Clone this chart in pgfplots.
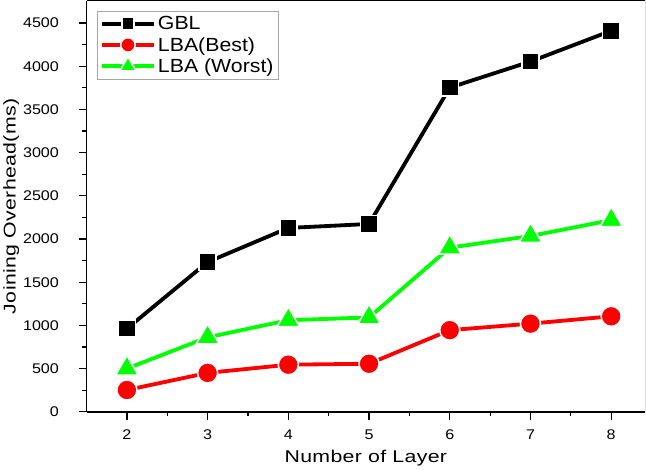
\documentclass[border=0pt]{standalone}
\usepackage{fontspec}
\setmainfont{Liberation Sans}[FakeStretch=1.12]
\newfontfamily\tickfont{Liberation Sans}[FakeStretch=1.15]
\newfontfamily\labfont{Liberation Sans}[FakeStretch=1.25, LetterSpace=2]
\usepackage{pgfplots}
\pgfplotsset{compat=1.18}
\definecolor{lgreen}{RGB}{0,255,0}
\definecolor{lred}{RGB}{255,0,0}

\begin{document}
\begin{tikzpicture}
\begin{axis}[
  scale only axis,
  width=556bp, height=409bp,
  xmin=1.5, xmax=8.42,
  ymin=0, ymax=4756,
  axis lines=left,
  axis line style={line width=1.8bp, -},
  xtick={2,...,8},
  ytick={0,500,...,4500},
  minor x tick num=1,
  minor y tick num=1,
  tick align=outside,
  major tick length=8bp,
  minor tick length=4.5bp,
  tick style={line width=1.2bp, black},
  scaled y ticks=false,
  /pgf/number format/assume math mode=true,
  /pgf/number format/1000 sep={},
  tick label style={font=\tickfont\fontsize{14}{16}\selectfont},
  yticklabel style={xshift=-16bp},
  xticklabel style={yshift=-6bp},
  xlabel={Number of Layer},
  ylabel={Joining Overhead(ms)},
  label style={font=\labfont\fontsize{17}{20}\selectfont},
  xlabel style={yshift=-4bp},
  ylabel style={yshift=-3bp},
  legend cell align=left,
  legend style={at={(0.018,0.975)}, anchor=north west, draw=gray!70,
    line width=0.6bp, font=\fontsize{19}{22}\selectfont,
    inner sep=3bp, row sep=2bp},
  legend image code/.code={
    \draw[mark repeat=2, mark phase=2, #1, every mark/.append style={scale=0.72}]
      plot coordinates {(0bp,0bp) (26bp,0bp) (52bp,0bp)};
  },
  every axis plot/.append style={line width=3.8bp},
]
\addplot[black, mark=square*, mark size=8.5bp,
  mark options={fill=black, draw=white, line width=1.5bp}]
  coordinates {(2,962) (3,1733) (4,2128) (5,2174) (6,3752) (7,4054) (8,4410)};
\addplot[lred, mark=*, mark size=10bp,
  mark options={fill=lred, draw=white, line width=1.5bp}]
  coordinates {(2,252) (3,450) (4,545) (5,556) (6,945) (7,1020) (8,1105)};
\addplot[lgreen, mark=triangle*, mark size=13bp,
  mark options={fill=lgreen, draw=white, line width=1.5bp}]
  coordinates {(2,500) (3,862) (4,1060) (5,1092) (6,1900) (7,2035) (8,2218)};
\legend{GBL, LBA(Best), LBA (Worst)}
\draw[line width=0.8bp] (rel axis cs:0,1) -- (rel axis cs:1,1) -- (rel axis cs:1,0);
\end{axis}
\end{tikzpicture}
\end{document}
